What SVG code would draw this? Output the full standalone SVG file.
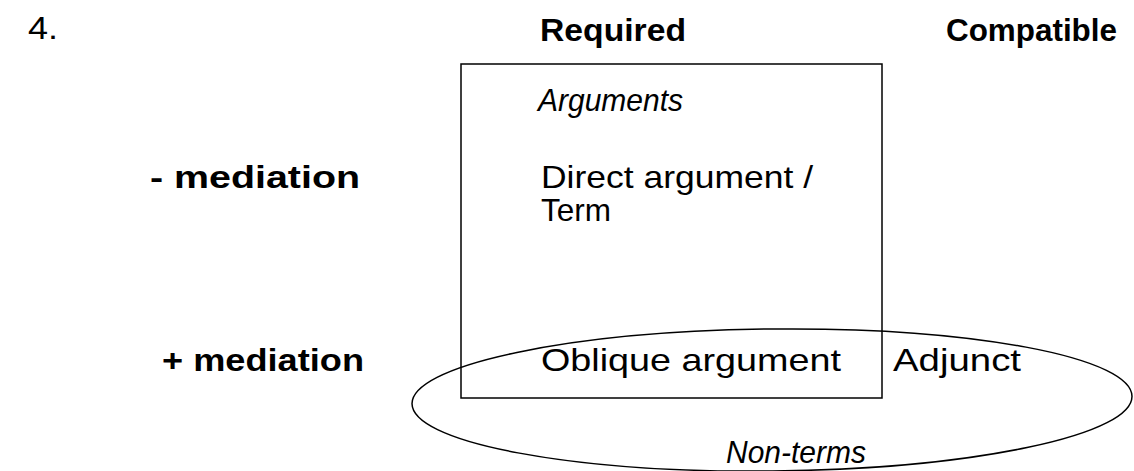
<svg xmlns="http://www.w3.org/2000/svg" width="1134" height="471" viewBox="0 0 1134 471">
<style>
text{font-family:"Liberation Sans",Arial,sans-serif;font-size:32px;fill:#000}
.b{font-weight:bold}
.i{font-style:italic}
.shape{fill:none;stroke:#000;stroke-width:1.5}
</style>
<rect width="1134" height="471" fill="#fff"/>
<text x="28" y="39" textLength="30" lengthAdjust="spacingAndGlyphs">4.</text>
<text class="b" x="540" y="41" textLength="146" lengthAdjust="spacingAndGlyphs">Required</text>
<text class="b" x="946" y="41" textLength="171" lengthAdjust="spacingAndGlyphs">Compatible</text>
<text class="b" x="150" y="188" textLength="210" lengthAdjust="spacingAndGlyphs">- mediation</text>
<text class="b" x="162" y="371" textLength="202" lengthAdjust="spacingAndGlyphs">+ mediation</text>
<g id="arguments">
<rect class="shape" x="461" y="64" width="421" height="334"/>
<text class="i" x="538" y="111" textLength="145" lengthAdjust="spacingAndGlyphs">Arguments</text>
<text x="541" y="188" textLength="272" lengthAdjust="spacingAndGlyphs">Direct argument /</text>
<text x="541" y="221" textLength="70" lengthAdjust="spacingAndGlyphs">Term</text>
<text x="541" y="371" textLength="300" lengthAdjust="spacingAndGlyphs">Oblique argument</text>
</g>
<g id="nonterms">
<ellipse class="shape" cx="772" cy="400" rx="360" ry="71" transform="rotate(-0.6 772 400)"/>
<text x="893" y="371" textLength="128" lengthAdjust="spacingAndGlyphs">Adjunct</text>
<text class="i" x="726" y="463" textLength="140" lengthAdjust="spacingAndGlyphs">Non-terms</text>
</g>
<g id="connectors"/>
</svg>
